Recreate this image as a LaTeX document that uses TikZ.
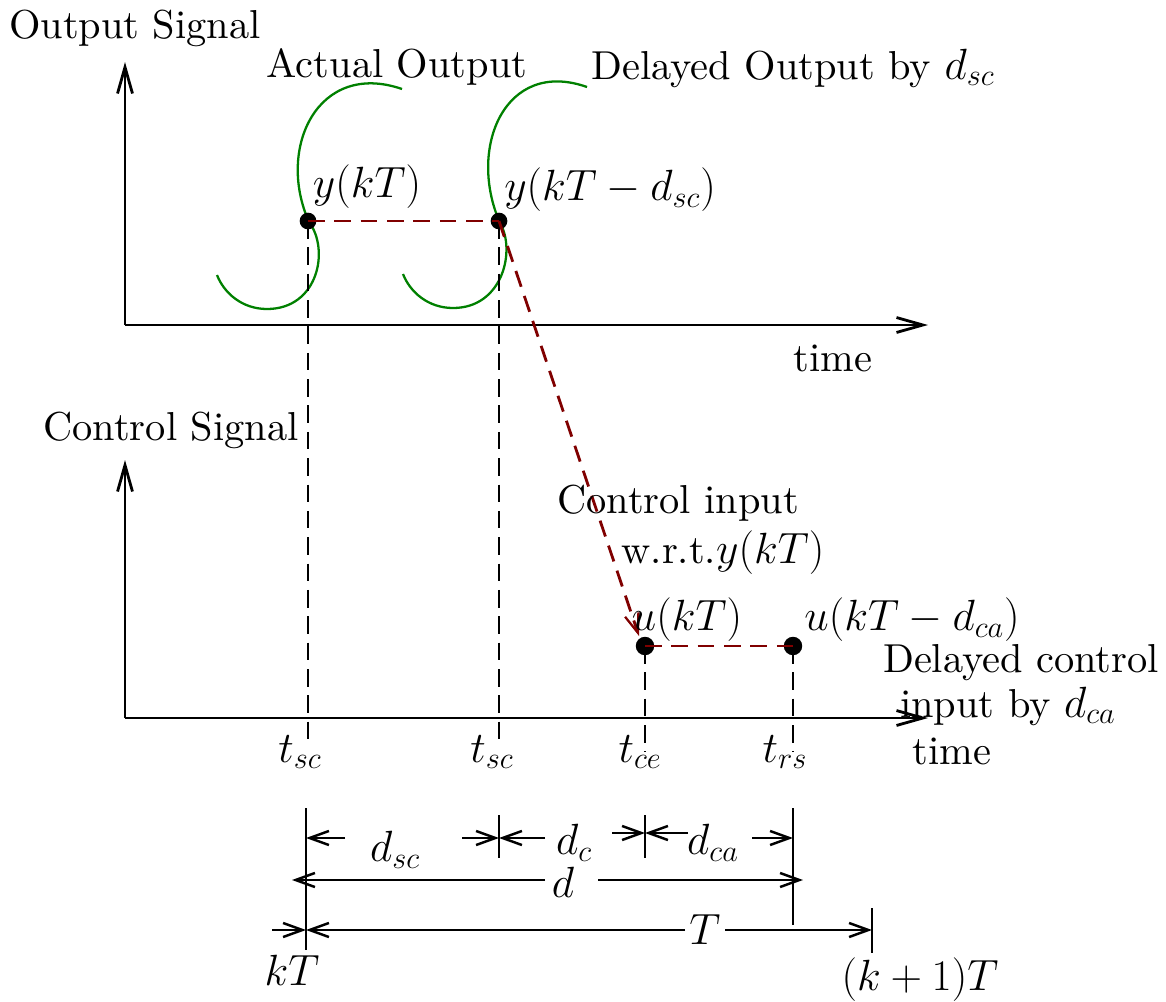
\documentclass[tikz,border=0pt]{standalone}
\usepackage{fontspec}
\setmainfont{lmroman10-regular.otf}
\usetikzlibrary{arrows.meta}
\definecolor{darkred}{RGB}{128,0,0}
\definecolor{ggreen}{RGB}{0,128,0}
\begin{document}
\begin{tikzpicture}[x=0.02cm,y=-0.02cm,
  font=\fontsize{23}{28}\selectfont,
  ax/.style={line width=1.6pt,-{Straight Barb[length=15pt,width=8.5pt,line width=1.6pt]}},
  dim/.style={line width=1.4pt},
  tipr/.style={-{Straight Barb[length=11pt,width=8pt,line width=1.4pt]}},
  vdash/.style={line width=1.5pt,dash pattern=on 10pt off 5pt},
  rdash/.style={draw=darkred,line width=1.6pt,dash pattern=on 9.5pt off 5.5pt},
  dot/.style={circle,fill=black,inner sep=0pt,minimum size=9.5pt},
  gcurve/.style={draw=ggreen,line width=1.3pt},
  lbl/.style={inner sep=0pt}]
\useasboundingbox (0,0) rectangle (1166,1001);
% axes
\coordinate (o1) at (125,325); \coordinate (y1) at (125,62); \coordinate (x1) at (928,325);
\coordinate (o2) at (125,718); \coordinate (y2) at (125,460); \coordinate (x2) at (928,718);
\draw[ax] (o1) -- (y1); \draw[ax] (o1) -- (x1);
\draw[ax] (o2) -- (y2); \draw[ax] (o2) -- (x2);
% green curves
\draw[gcurve] (309,222) .. controls (276,148) and (318,60) .. (402,89);
\draw[gcurve] (309,222) .. controls (330,250) and (318,309) .. (267,309) .. controls (242,309) and (224,293) .. (217,275);
\draw[gcurve] (500,223) .. controls (467,148) and (505,58) .. (587,87);
\draw[gcurve] (500,223) .. controls (516,250) and (503,308) .. (453,308) .. controls (428,308) and (410,292) .. (403,274);
% dots
\node[dot] (p1) at (308,221) {};
\node[dot] (p2) at (499,221) {};
\node[dot,minimum height=10.5pt] (q1) at (645,646) {};
\node[dot,minimum height=10.5pt] (q2) at (793,646) {};
% dashed verticals
\coordinate (b1) at (308,740); \coordinate (b2) at (499,740);
\coordinate (b3) at (645,752); \coordinate (b4) at (793,752);
\draw[vdash] (p1.center) -- (b1);
\draw[vdash] (p2.center) -- (b2);
\draw[vdash] (q1.center) -- (b3);
\draw[vdash] (q2.center) -- (b4);
% red dashed
\coordinate (a1) at (639,636);
\draw[rdash] (p1.center) -- (p2.center);
\draw[rdash,-{Straight Barb[length=11pt,width=8pt,line width=1.3pt]}] (p2.center) -- (a1);
\draw[rdash] (q1.center) -- (q2.center);
% labels
\node[lbl] (lout) at (135,28) {Output Signal};
\node[lbl] (lact) at (397,67) {Actual Output};
\node[lbl] (ldel) at (793,68) {Delayed Output by $d_{sc}$};
\node[lbl] (ly1) at (367,187) {$y(kT)$};
\node[lbl] (ly2) at (610,190) {$y(kT-d_{sc})$};
\node[lbl] (lt1) at (833,358) {time};
\node[lbl] (lctl) at (171,430) {Control Signal};
\node[lbl] (lci) at (678,503) {Control input};
\node[lbl] (lwrt) at (723,553) {w.r.t.$y(kT)$};
\node[lbl] (lu1) at (687,620) {$u(kT)$};
\node[lbl] (lu2) at (912,620) {$u(kT-d_{ca})$};
\node[lbl] (ldc) at (1021,663) {Delayed control};
\node[lbl] (lib) at (1008,706) {input by $d_{ca}$};
\node[lbl] (lt2) at (952,751) {time};
\node[lbl] (ts1) at (300,752) {$t_{sc}$};
\node[lbl] (ts2) at (492,752) {$t_{sc}$};
\node[lbl] (tce) at (640,752) {$t_{ce}$};
\node[lbl] (trs) at (785,752) {$t_{rs}$};
% dimension verticals
\coordinate (v1a) at (306,808); \coordinate (v1b) at (306,950);
\coordinate (v2a) at (499,815); \coordinate (v2b) at (499,858);
\coordinate (v3a) at (645,815); \coordinate (v3b) at (645,858);
\coordinate (v4a) at (793,808); \coordinate (v4b) at (793,925);
\coordinate (v5a) at (872,908); \coordinate (v5b) at (872,953);
\draw[dim] (v1a) -- (v1b); \draw[dim] (v2a) -- (v2b); \draw[dim] (v3a) -- (v3b);
\draw[dim] (v4a) -- (v4b); \draw[dim] (v5a) -- (v5b);
% dimension labels
\node[lbl] (ldsc) at (395,850) {$d_{sc}$};
\node[lbl] (ldcc) at (574,843) {$d_c$};
\node[lbl] (ldca) at (713,843) {$d_{ca}$};
\node[lbl] (ld) at (563,882) {$d$};
\node[lbl] (lT) at (705,930) {$T$};
\node[lbl] (lkT) at (292,970) {$kT$};
\node[lbl] (lk1T) at (920,980) {$(k+1)T$};
% row 1 arrows
\coordinate (r1a) at (345,838); \coordinate (r1b) at (306,838);
\coordinate (r1c) at (462,838); \coordinate (r1d) at (499,838);
\coordinate (r1e) at (545,838);
\coordinate (r1f) at (612,833); \coordinate (r1g) at (645,833);
\coordinate (r1h) at (688,833);
\coordinate (r1i) at (752,838); \coordinate (r1j) at (793,838);
\draw[dim,tipr] (r1a) -- (r1b);
\draw[dim,tipr] (r1c) -- (r1d);
\draw[dim,tipr] (r1e) -- (r1d);
\draw[dim,tipr] (r1f) -- (r1g);
\draw[dim,tipr] (r1h) -- (r1g);
\draw[dim,tipr] (r1i) -- (r1j);
% row 2
\coordinate (r2a) at (545,880); \coordinate (r2b) at (292,880);
\coordinate (r2c) at (598,880); \coordinate (r2d) at (803,880);
\draw[dim,tipr] (r2a) -- (r2b);
\draw[dim,tipr] (r2c) -- (r2d);
% row 3
\coordinate (r3a) at (272,930); \coordinate (r3b) at (306,930);
\coordinate (r3c) at (685,930); \coordinate (r3d) at (725,930);
\coordinate (r3e) at (872,930);
\draw[dim,tipr] (r3a) -- (r3b);
\draw[dim,tipr] (r3c) -- (r3b);
\draw[dim,tipr] (r3d) -- (r3e);
\end{tikzpicture}
\end{document}
